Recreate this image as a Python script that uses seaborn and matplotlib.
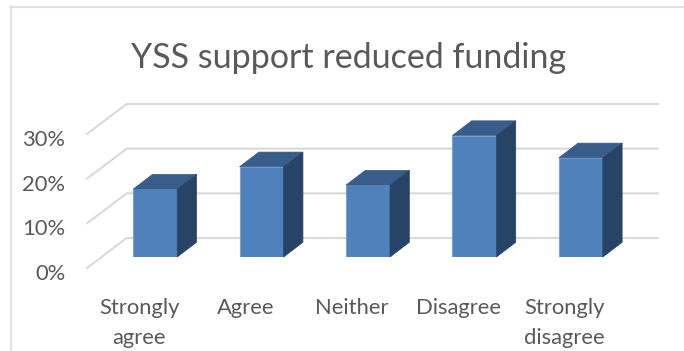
import matplotlib
matplotlib.use("Agg")
import pandas as pd
import matplotlib.pyplot as plt
import seaborn as sns
from matplotlib.lines import Line2D
from matplotlib.patches import Polygon
from matplotlib.transforms import ScaledTranslation

categories = ["Strongly\nagree", "Agree", "Neither", "Disagree", "Strongly\ndisagree"]
values = [15.2, 20.2, 16.1, 27.2, 22.2]
y_ticks = [0, 10, 20, 30]
y_tick_labels = ["0%", "10%", "20%", "30%"]

sns.set_style("white")
plt.rcParams["font.family"] = ["Lato", "DejaVu Sans"]

W, H = 684, 351
text_color = "#595959"
grid_color = "#D9D9D9"
border_color = "#E2E2E2"

fig = plt.figure(figsize=(W / 100, H / 100), dpi=100)
# axes = plane of the bar front faces
ax = fig.add_axes([102 / W, (H - 257) / H, 532 / W, 134 / H])

df = pd.DataFrame({"answer": categories, "value": values})
sns.barplot(data=df, x="answer", y="value", ax=ax, color="#4F81BD", saturation=1,
            width=0.414, edgecolor="#7BA0CD", linewidth=0.8, zorder=3)

ax.set_xlim(-0.5, 4.5)
ax.set_ylim(0, 30)
ax.set_xlabel("")
ax.set_ylabel("")
sns.despine(ax=ax, left=True, bottom=True)

# pixels to data units
ux = 5 / 532
uy = 30 / 134

# 3D walls: floor lines go from front to back of the chart
for t in y_ticks:
    xs = [-0.5 - 15 * ux, -0.5 + 24.7 * ux, 4.5 + 24 * ux]
    ys = [t - 11 * uy, t + 19 * uy, t + 19 * uy]
    ax.plot(xs, ys, color=grid_color, linewidth=1.5, clip_on=False, zorder=1,
            solid_joinstyle="miter")

# top and side of each bar
dx = 19.3 * ux
dy = 14.7 * uy
for bar in ax.patches[:len(values)]:
    x0 = bar.get_x()
    x1 = x0 + bar.get_width()
    top = bar.get_height()
    ax.add_patch(Polygon([(x0, top), (x1, top), (x1 + dx, top + dy), (x0 + dx, top + dy)],
                         closed=True, facecolor="#395D8A", edgecolor="#395D8A",
                         linewidth=0.5, clip_on=False, zorder=4))
    ax.add_patch(Polygon([(x1, 0), (x1 + dx, dy), (x1 + dx, top + dy), (x1, top)],
                         closed=True, facecolor="#274366", edgecolor="#274366",
                         linewidth=0.5, clip_on=False, zorder=4))

ax.set_yticks(y_ticks)
ax.set_yticklabels(y_tick_labels)
ax.tick_params(axis="y", length=0, pad=26.5, labelsize=15.8, labelcolor=text_color)
ax.tick_params(axis="x", length=0, pad=29.5, labelsize=15.8, labelcolor=text_color)

for lab in ax.get_yticklabels():
    lab.set_transform(lab.get_transform() + ScaledTranslation(0, -15 / 100, fig.dpi_scale_trans))
for lab in ax.get_xticklabels():
    lab.set_linespacing(1.6)
    lab.set_transform(lab.get_transform() + ScaledTranslation(-16 / 100, 0, fig.dpi_scale_trans))

fig.text(349 / W, 1 - 58 / H, "YSS support reduced funding", ha="center", va="center",
         fontsize=24.5, color=text_color)

# outer chart frame, cropped at right and bottom
fig.add_artist(Line2D([10.5 / W, 10.5 / W], [0, 1 - 6 / H], color=border_color, linewidth=1.5))
fig.add_artist(Line2D([10 / W, 1], [1 - 6.5 / H, 1 - 6.5 / H], color=border_color, linewidth=1.5))

fig.savefig("out.png", dpi=100)
